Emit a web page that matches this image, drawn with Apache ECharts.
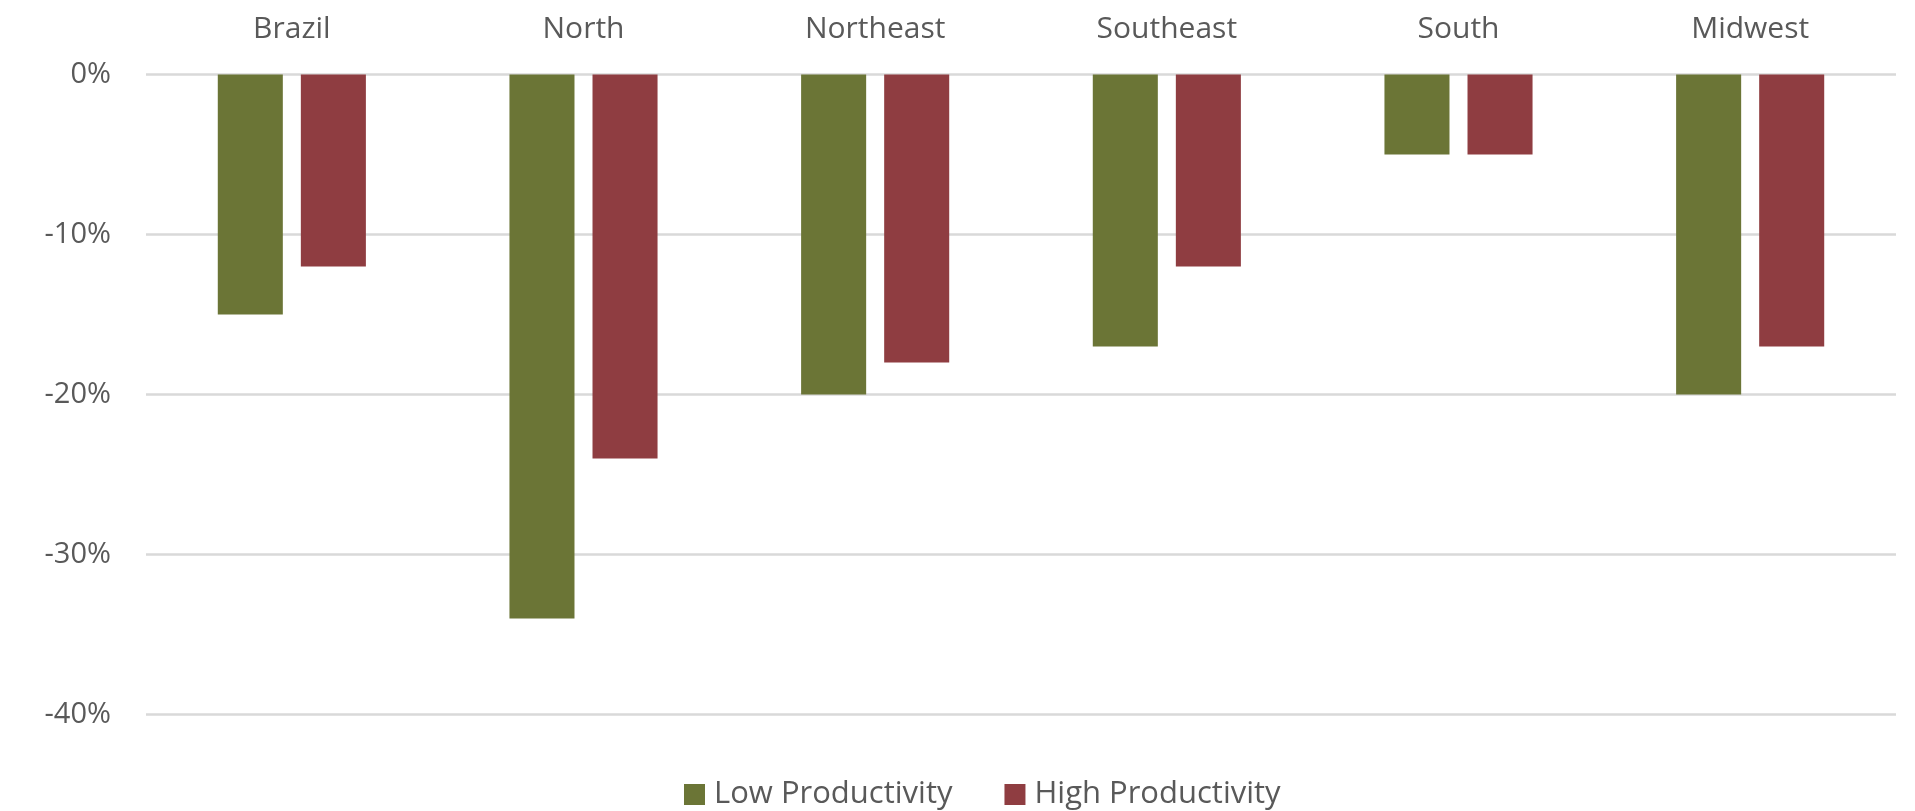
<!DOCTYPE html>
<html>
<head>
<meta charset="utf-8">
<script src="https://cdn.jsdelivr.net/npm/echarts@6/dist/echarts.min.js"></script>
<style>
html,body{margin:0;padding:0;background:#fff;}
#chart{width:1915px;height:811px;}
</style>
</head>
<body>
<div id="chart"></div>
<script>
const categories = ['Brazil', 'North', 'Northeast', 'Southeast', 'South', 'Midwest'];
const lowProductivity = [-15, -34, -20, -17, -5, -20];
const highProductivity = [-12, -24, -18, -12, -5, -17];
const seriesNames = ['Low Productivity', 'High Productivity'];

const FONT = '"Open Sans", sans-serif';
const TXT = '#595959';
const chart = echarts.init(document.getElementById('chart'));
chart.setOption({
  animation: false,
  backgroundColor: '#ffffff',
  grid: { left: 146, right: 19, top: 74.5, bottom: 96.5, containLabel: false },
  legend: {
    left: 679, top: 774,
    itemWidth: 21, itemHeight: 21, itemGap: 52,
    icon: 'rect',
    textStyle: { fontFamily: FONT, fontSize: 31, color: TXT, padding: [0, 0, 0, 4] },
    data: seriesNames
  },
  xAxis: {
    type: 'category', position: 'top', data: categories,
    axisLine: { show: false }, axisTick: { show: false },
    axisLabel: { fontFamily: FONT, fontSize: 30, color: TXT, margin: 30 }
  },
  yAxis: {
    type: 'value', min: -40, max: 0, interval: 10,
    axisLine: { show: false }, axisTick: { show: false },
    axisLabel: { fontFamily: FONT, fontSize: 29, color: TXT, margin: 35, formatter: '{value}%' },
    splitLine: { lineStyle: { color: '#D9D9D9', width: 2.5 } }
  },
  series: [
    { name: seriesNames[0], type: 'bar', data: lowProductivity, barWidth: '22.3%', barGap: '27.7%',
      itemStyle: { color: '#6B7536' } },
    { name: seriesNames[1], type: 'bar', data: highProductivity, barWidth: '22.3%', barGap: '27.7%',
      itemStyle: { color: '#8F3D41' } }
  ]
});
</script>
</body>
</html>
